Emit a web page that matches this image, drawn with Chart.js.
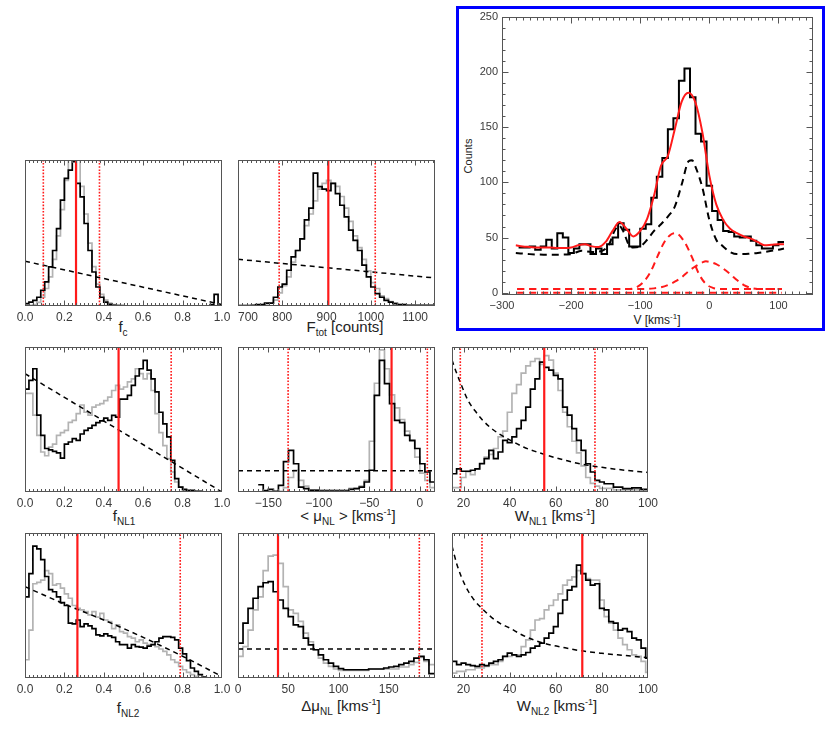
<!DOCTYPE html>
<html><head><meta charset="utf-8">
<script src="https://cdn.jsdelivr.net/npm/chart.js@4.4.1/dist/chart.umd.min.js"></script>
<style>
html,body{margin:0;padding:0;background:#fff;}
body{width:831px;height:748px;position:relative;overflow:hidden;font-family:"Liberation Sans",Arial,sans-serif;}
canvas{position:absolute;}
.lbl{position:absolute;transform:translate(-50%,-50%);white-space:nowrap;color:#222;font-size:15px;line-height:1;}
.lbl sub{font-size:10px;vertical-align:-4px;}
.lbl sup{font-size:9px;vertical-align:6px;}
.big{font-size:12px;}
.big sup{font-size:8px;vertical-align:5px;}
#blue{position:absolute;left:456px;top:6px;width:363px;height:319px;border:3px solid #0000ff;}
</style></head><body>
<div id="blue"></div>
<div class="lbl" style="left:123px;top:328px">f<sub>c</sub></div>
<div class="lbl" style="left:345px;top:328px">F<sub>tot</sub> [counts]</div>
<div class="lbl" style="left:124px;top:517px">f<sub>NL1</sub></div>
<div class="lbl" style="left:348px;top:517px">&lt; &mu;<sub>NL</sub> &gt; [kms<sup>-1</sup>]</div>
<div class="lbl" style="left:555px;top:517px">W<sub>NL1</sub> [kms<sup>-1</sup>]</div>
<div class="lbl" style="left:128px;top:709px">f<sub>NL2</sub></div>
<div class="lbl" style="left:341px;top:707px">&Delta;&mu;<sub>NL</sub> [kms<sup>-1</sup>]</div>
<div class="lbl" style="left:557px;top:707px">W<sub>NL2</sub> [kms<sup>-1</sup>]</div>
<div class="lbl big" style="left:657px;top:319px">V [kms<sup>-1</sup>]</div>
<div class="lbl" style="left:468px;top:156px;font-size:11px;transform:translate(-50%,-50%) rotate(-90deg)">Counts</div>
<script>
// ---------------- DATA ----------------
// f_c panel (bins of 0.02 from 0.0)
const fcBinStart = 0, fcBinWidth = 0.02;
const fcBlack = [1.6,2.7,3.9,6,10.8,16.5,26.8,38,53,72.5,87.4,93,98.9,84,74.8,56.5,38,23.3,13,6,2.7,1.1,0.5,0.2,0.2,0,0,0,0,0,0,0,0,0,0,0,0,0,0,0,0,0,0,0,0,0,0,1,8,0];
const fcGrey  = [0.5,0.5,1,2.5,6,12,20,32,48,66,86,100,108,102,82,63,43,27,15,8,4,2,1,0.5,0,0,0,0,0,0,0,0,0,0,0,0,0,0,0,0,0,0,0,0,0,0,0,0,0,0];
const fcPriorX = [0, 1];
const fcPriorY = [30.7, 1];
const fcMedian = 0.259, fcLimits = [0.093, 0.378];

// F_tot panel (bins of 10 from 700)
const ftotBinStart = 700, ftotBinWidth = 10;
const ftotBlack = [0.3,0.3,0.3,0.5,1,1,2,2,6,13,15,24.5,33.6,38,46,59,67,91,81.7,80,79,84,77,69,61,52,45,38,28,20,13,8.5,6,3.9,2.7,1.6,1,1,0.5,0.5,0.4,0.4,0.4,0.4,0.4];
const ftotGrey  = [0.2,0.2,0.3,0.3,0.5,1,1.5,2,4,9,14,20,30,38,46,55,63,72,80,84,86,84,82,75,67,58,48,40,32,24,16,12,7,5,3,2,1,1,0.5,0.5,0.3,0.3,0.3,0.3,0.3];
const ftotPriorX = [700, 1145];
const ftotPriorY = [32, 19.2];
const ftotMedian = 904, ftotLimits = [793, 1010];

// f_NL1 panel (bins of 0.02)
const fnl1BinStart = 0, fnl1BinWidth = 0.02;
const fnl1Black = [71,77,85,53,39,30,29,28,27,23.4,33,34.5,36.8,35.6,40,42.5,44,46,47.8,49,51,49.4,52.9,51.7,64,64,66.7,73.6,80,85,90.8,84,78,69,55,47,38,21.8,9.2,3.4,1.8,1.1,1.1,0.5,0.5,0,0,0,0,0];
const fnl1Grey  = [68,68,53,39,27.6,25,31,33,39,41,42.5,48,49.4,54,60,55,53,58.6,60,61,63,65.5,70,73.6,71,72.4,75.9,78,85,81.6,78,81.6,70,54,41,32,23,13.8,6.9,3.4,1.1,0.5,0.5,0.5,0.5,0,0,0,0,0];
const fnl1PriorX = [0, 1];
const fnl1PriorY = [81.6, 0];
const fnl1Median = 0.475, fnl1Limits = [0.0, 0.742];

// <mu_NL> panel (bins of 5 from -160)
const muBinStart = -160, muBinWidth = 5;
const muBlack = [5,1,1.8,0.5,4.6,21,28.7,19.5,3.4,2.3,1.1,1.1,0.7,0.7,0.7,0.7,0.7,0.7,1.8,2.3,3.4,6.9,15,66.7,90.8,74.7,61,49.4,47.8,39,35.6,30,19.5,13.8,6.9];
const muGrey  = [0,0,0,0,0.5,3,10,15,8,4,1.5,1.5,1.5,1.5,1.5,1.5,1.5,1.5,2.5,2.5,4,8,35,75,98,85,67,58,50,42,35,24,13,8,3];
const muPriorX = [-180, 15];
const muPriorY = [14.7, 14.7];
const muMedian = -28, muLimits = [-130.4, 7.4];

// W_NL1 panel (bins of 2 from 15)
const w1BinStart = 15, w1BinWidth = 2;
const w1Black = [12.6,16,14.3,14.3,15,16,19.5,23,28.7,23,27.6,35.6,34,38,43.7,49.4,58.6,71,78,89.6,86,84,80.5,78,58.6,53,43.7,35.6,28.7,19.5,13.8,8,6.9,5.7,5.7,3.4,3.4,2.3,2.3,2.8,2.8,1.8,1.8];
const w1Grey  = [3,3,10,14,12,16,20,24,26,30,38,42,55,68,74,82,87,90,92,88,94,91,82,70,55,45,35,27,18,10,6,4,2.5,2.5,2.5,1.5,1.5,1.5,1.5,1.5,1.5,1.5,1.5];
const w1PriorX = [15,17,19,22,25,28,32,36,40,46,52,58,65,72,80,90,100];
const w1PriorY = [91,82,74,63,56,50,44,39.5,36,31,27.5,24.5,21.5,19,17,15,13.5];
const w1Median = 55, w1Limits = [18.6, 77];

// f_NL2 panel (bins of 0.02)
const fnl2BinStart = 0, fnl2BinWidth = 0.02;
const fnl2Black = [56,72,91,89,81.7,70,61,59.5,56,52,50,37.8,37.3,40,35.5,37.3,36,34,29.7,29,30.4,29,28,25,23,23,20.6,23,21.7,21.3,20.6,22,23,25,27.5,28.6,28.6,28,26.3,20.6,16.7,12,6.9,4.6,2.3,0.7,0,0,0,0];
const fnl2Grey  = [12.6,33,65,66,67.5,74,72,64,65,62,58,55,50,48,47,45.8,43.5,45.8,42,44.6,40,38.9,34,36.6,32,30.9,28.6,27.5,25,26.3,24,23,23,21.7,20,18.3,16,12.6,10.8,8,5.7,3.9,2.3,1.1,0,0,0,0,0,0];
const fnl2PriorX = [0, 0.2, 0.4, 0.6, 0.8, 1.0];
const fnl2PriorY = [63, 51, 40, 28, 15, 1];
const fnl2Median = 0.266, fnl2Limits = [0.0, 0.788];

// Delta mu_NL panel (bins of 5 from 0)
const dmuBinStart = 0, dmuBinWidth = 5;
const dmuBlack = [24,37.8,48,55,63,65.7,66.4,59.5,53.8,48,42.3,36.6,35.5,27.5,22.9,19.5,16,12.6,10.3,8,6.4,5.7,5.7,5.7,5.7,5.7,6.2,6.2,6.2,6.9,7.6,8,9.2,10.3,11.4,13.7,14.9,12.6,3];
const dmuGrey  = [14.9,21.7,33,47,56,74,84,84.7,79,63,47,44.6,39,31,25,19.5,13.7,10.3,8,6.2,5.3,5.3,5.3,5.3,5.3,5.3,6.2,6.2,6.2,6.2,6.2,6.2,7.6,7.6,9.2,10.8,14.2,11.4,9.2];
const dmuPriorX = [0, 196];
const dmuPriorY = [20, 20];
const dmuMedian = 39.8, dmuLimits = [0.0, 180.4];

// W_NL2 panel (bins of 2 from 15)
const w2BinStart = 15, w2BinWidth = 2;
const w2Black = [11.4,9.2,10.3,9.2,8.5,8,9.2,8.5,10.3,11.4,12.6,14.9,17.2,16,14.9,16,17.6,20.6,22,24,27.5,30.9,35.5,44.6,53.8,60.6,63,77.8,72,67.5,64,65,48,47,38.9,37.8,33,34,32,27.5,26.3,20.6,13.7];
const w2Grey  = [3.4,4.6,4.6,5.7,5.7,6.9,6.9,8,9.2,9.2,11.4,14.9,14.9,16,16,21.7,26.3,33,40,41,47,50,53.8,58,64,67.5,69.8,74,72,68.6,67.5,67.5,53.8,42.3,37.8,33,27.5,23,19.5,16,14.9,11.4,3.9];
const w2PriorX = [15,17,19,22,25,28,32,36,40,45,50,56,62,70,80,90,100];
const w2PriorY = [91,79,70,60,53,48,42,37.5,34.5,30,26.5,23.5,21.5,19,17,15.5,14];
const w2Median = 71.5, w2Limits = [28, 100];

// Spectrum panel (velocity in km/s, counts)
const specYTicks = [0, 50, 100, 150, 200, 250];
const specXTicks = [-300, -200, -100, 0, 100];
const specBinStart = -276, specBinWidth = 8;
const specCounts = [41,41,42,39,42,48,40,54,50,36,40,44,44,35,40,35,44,50,63,57,42,42,58,62,86,105,122,148,158,192,203,177,144,137,97,74,66,56,55,51,50,51,47,43,40,40,43,46];
const fitV = [-280,-270,-260,-250,-240,-230,-220,-210,-200,-190,-180,-170,-160,-150,-140,-130,-120,-110,-100,-90,-80,-70,-60,-50,-40,-30,-20,-10,0,10,20,30,40,50,60,70,80,90,100,108];
const fitY = [43,42,41.5,41,41,41,40.5,40.5,41,43,44,42,41.5,46,56,64,58,51,56,67,88,115,124,148,173,181,172,145,106,80,66,58,54,51,49,46,43,43.5,44,44];
const narrowV = [-280,-260,-240,-220,-200,-185,-170,-155,-145,-138,-131,-124,-117,-110,-100,-90,-80,-70,-60,-50,-40,-30,-25,-20,-10,0,10,20,30,40,50,60,70,80,90,100,108];
const narrowY = [36,35,34.5,34.5,35,38,37,38,44,55,61,55,44,41,42,48,56,62,69,78,98,119,120,114,95,66,48,42,37,35,35,35.5,36,37,38,39,40];
const comp1V = [-278,-115,-105,-95,-85,-75,-65,-55,-50,-45,-35,-25,-15,-5,5,15,105];
const comp1Y = [3.5,3.5,5,10,19,33,46,53,54,53,45,32,17,8,4.5,3.5,3.5];
const comp2V = [-278,-90,-80,-70,-60,-50,-40,-30,-20,-10,-5,0,10,20,30,40,50,60,70,80,105];
const comp2Y = [3.5,3.5,4,5,7,10,14,19.5,24,27.5,28.5,28,26,22,17,11.5,7,4.5,3.5,3.5,3.5];
const baseV = [-278, 105];
const baseY = [0, 0];

// ---------------- RENDERING ----------------
const FONT = '"Liberation Sans", Arial, sans-serif';
const RED = '#ff1a1a';
const GREY = '#b3b3b3';

function hist(start, width, values) {
  const pts = values.map((v, i) => ({x: start + i * width, y: v}));
  pts.push({x: start + values.length * width, y: values[values.length - 1]});
  return pts;
}
function xy(xs, ys) { return xs.map((x, i) => ({x: x, y: ys[i]})); }
function vline(x, dotted) {
  return {data: [{x: x, y: -50}, {x: x, y: 500}], borderColor: RED,
    borderWidth: dotted ? 1.6 : 2.2, borderDash: dotted ? [1.6, 1.6] : [], pointRadius: 0};
}
function minusFmt(v) { return (v < 0 ? '\u2212' : '') + Math.abs(v); }
// first label of the F_tot axis sits just right of the frame corner, as in the figure
function ftotFmt(v) { return v === 700 ? '\u2007\u2007\u2007700' : String(v); }

const idlFrame = {
  id: 'idlFrame',
  afterDatasetsDraw(chart, args, o) {
    const {ctx, chartArea: a} = chart;
    const xs = chart.scales.x, ys = chart.scales.y;
    const L = Math.round(a.left) + 0.5, R = Math.round(a.right) - 0.5;
    const T = Math.round(a.top) + 0.5, B = Math.round(a.bottom) - 0.5;
    ctx.save();
    ctx.strokeStyle = o.color; ctx.lineWidth = 1;
    ctx.strokeRect(L, T, R - L, B - T);
    ctx.beginPath();
    const doX = (step, len) => {
      for (let v = Math.ceil(xs.min / step - 1e-9) * step; v <= xs.max + 1e-9; v += step) {
        const p = Math.round(xs.getPixelForValue(v)) + 0.5;
        if (p <= L || p >= R) continue;
        ctx.moveTo(p, B); ctx.lineTo(p, B - len);
        ctx.moveTo(p, T); ctx.lineTo(p, T + len);
      }
    };
    const doY = (step, len) => {
      for (let v = Math.ceil(ys.min / step - 1e-9) * step; v <= ys.max + 1e-9; v += step) {
        const p = Math.round(ys.getPixelForValue(v)) + 0.5;
        if (p <= T || p >= B) continue;
        ctx.moveTo(L, p); ctx.lineTo(L + len, p);
        ctx.moveTo(R, p); ctx.lineTo(R - len, p);
      }
    };
    doX(o.xMajor, o.majorLen); doX(o.xMinor, o.minorLen);
    if (o.yMajor) { doY(o.yMajor, o.majorLen); doY(o.yMinor, o.minorLen); }
    ctx.stroke();
    ctx.restore();
  }
};

function makeChart(rect, pad, axH, yAxW, xOpt, yOpt, datasets, frame) {
  const c = document.createElement('canvas');
  const left = rect.l - pad.left - yAxW, top = rect.t - pad.top;
  const w = (rect.r - rect.l) + pad.left + pad.right + yAxW;
  const h = (rect.b - rect.t) + pad.top + axH;
  c.width = w; c.height = h;
  c.style.left = left + 'px'; c.style.top = top + 'px';
  c.style.width = w + 'px'; c.style.height = h + 'px';
  document.body.appendChild(c);
  datasets.forEach(d => { d.pointRadius = 0; d.fill = false; d.tension = d.tension || 0; });
  return new Chart(c, {
    type: 'line',
    data: {datasets: datasets},
    options: {
      responsive: false, animation: false, devicePixelRatio: 1,
      events: [],
      layout: {padding: {left: pad.left, right: pad.right, top: pad.top, bottom: 0}},
      plugins: {legend: {display: false}, tooltip: {enabled: false}, idlFrame: frame},
      scales: {
        x: Object.assign({type: 'linear', grid: {display: false, drawTicks: false}, border: {display: false},
          afterFit: s => { s.height = axH; s.paddingLeft = 0; s.paddingRight = 0; }}, xOpt),
        y: Object.assign({type: 'linear', grid: {display: false, drawTicks: false}, border: {display: false}}, yOpt)
      }
    },
    plugins: [idlFrame]
  });
}

function smallPanel(rect, xmin, xmax, step, minor, fmt, start, width, black, grey, priorX, priorY, priorTension, median, limits) {
  const xOpt = {min: xmin, max: xmax,
    ticks: {stepSize: step, includeBounds: false, autoSkip: false, maxRotation: 0, padding: 4,
      color: '#3a3a3a', font: {family: FONT, size: 12}, callback: fmt}};
  const yOpt = {min: 0, max: 100, display: false};
  const ds = [
    vline(median, false),
    vline(limits[0], true),
    vline(limits[1], true),
    {data: xy(priorX, priorY), borderColor: '#000', borderWidth: 1.5, borderDash: [5, 4], tension: priorTension, cubicInterpolationMode: priorTension ? 'monotone' : 'default'},
    {data: hist(start, width, black), borderColor: '#000', borderWidth: 1.7, stepped: true},
    {data: hist(start, width, grey), borderColor: GREY, borderWidth: 1.7, stepped: true}
  ];
  makeChart(rect, {left: 20, right: 20, top: 4}, 22, 0, xOpt, yOpt, ds,
    {color: '#555', xMajor: step, xMinor: minor, majorLen: 5, minorLen: 2.5});
}

const f1 = v => v.toFixed(1);
smallPanel({l: 25, r: 222, t: 160, b: 306}, 0, 1, 0.2, 0.02, f1, fcBinStart, fcBinWidth, fcBlack, fcGrey, fcPriorX, fcPriorY, 0, fcMedian, fcLimits);
smallPanel({l: 238, r: 435, t: 160, b: 306}, 700, 1145, 100, 10, ftotFmt, ftotBinStart, ftotBinWidth, ftotBlack, ftotGrey, ftotPriorX, ftotPriorY, 0, ftotMedian, ftotLimits);
smallPanel({l: 25, r: 222, t: 347, b: 492}, 0, 1, 0.2, 0.02, f1, fnl1BinStart, fnl1BinWidth, fnl1Black, fnl1Grey, fnl1PriorX, fnl1PriorY, 0, fnl1Median, fnl1Limits);
smallPanel({l: 238, r: 435, t: 347, b: 492}, -180, 15, 50, 5, minusFmt, muBinStart, muBinWidth, muBlack, muGrey, muPriorX, muPriorY, 0, muMedian, muLimits);
smallPanel({l: 452, r: 648, t: 347, b: 492}, 15, 100, 20, 2, minusFmt, w1BinStart, w1BinWidth, w1Black, w1Grey, w1PriorX, w1PriorY, 0.4, w1Median, w1Limits);
smallPanel({l: 25, r: 222, t: 533, b: 678}, 0, 1, 0.2, 0.02, f1, fnl2BinStart, fnl2BinWidth, fnl2Black, fnl2Grey, fnl2PriorX, fnl2PriorY, 0.4, fnl2Median, fnl2Limits);
smallPanel({l: 238, r: 435, t: 533, b: 678}, 0, 196, 50, 5, minusFmt, dmuBinStart, dmuBinWidth, dmuBlack, dmuGrey, dmuPriorX, dmuPriorY, 0, dmuMedian, dmuLimits);
smallPanel({l: 452, r: 648, t: 533, b: 678}, 15, 100, 20, 2, minusFmt, w2BinStart, w2BinWidth, w2Black, w2Grey, w2PriorX, w2PriorY, 0.4, w2Median, w2Limits);

// Spectrum panel
(function () {
  const xOpt = {min: -300, max: 150,
    afterBuildTicks: s => { s.ticks = specXTicks.map(v => ({value: v})); },
    ticks: {autoSkip: false, maxRotation: 0, padding: 4,
      color: '#3a3a3a', font: {family: FONT, size: 11}, callback: minusFmt}};
  const yOpt = {min: -2, max: 250, position: 'left',
    afterFit: s => { s.width = 38; },
    afterBuildTicks: s => { s.ticks = specYTicks.map(v => ({value: v})); },
    ticks: {autoSkip: false, padding: 4,
      color: '#3a3a3a', font: {family: FONT, size: 11}, callback: v => String(v)}};
  const dash = [7, 5];
  const ds = [
    {data: xy(fitV, fitY), borderColor: RED, borderWidth: 2, tension: 0.4, cubicInterpolationMode: 'monotone'},
    {data: hist(specBinStart, specBinWidth, specCounts), borderColor: '#000', borderWidth: 2, stepped: true},
    {data: xy(narrowV, narrowY), borderColor: '#000', borderWidth: 2, borderDash: dash, tension: 0.4, cubicInterpolationMode: 'monotone'},
    {data: xy(comp1V, comp1Y), borderColor: RED, borderWidth: 2, borderDash: dash, tension: 0.4, cubicInterpolationMode: 'monotone'},
    {data: xy(comp2V, comp2Y), borderColor: RED, borderWidth: 2, borderDash: dash, tension: 0.4, cubicInterpolationMode: 'monotone'},
    {data: xy(baseV, baseY), borderColor: RED, borderWidth: 2, borderDash: dash}
  ];
  makeChart({l: 502, r: 813, t: 14, b: 295}, {left: 4, right: 10, top: 8}, 24, 38, xOpt, yOpt, ds,
    {color: '#555', xMajor: 100, xMinor: 10, yMajor: 50, yMinor: 10, majorLen: 6, minorLen: 3});
})();
</script>
</body></html>
